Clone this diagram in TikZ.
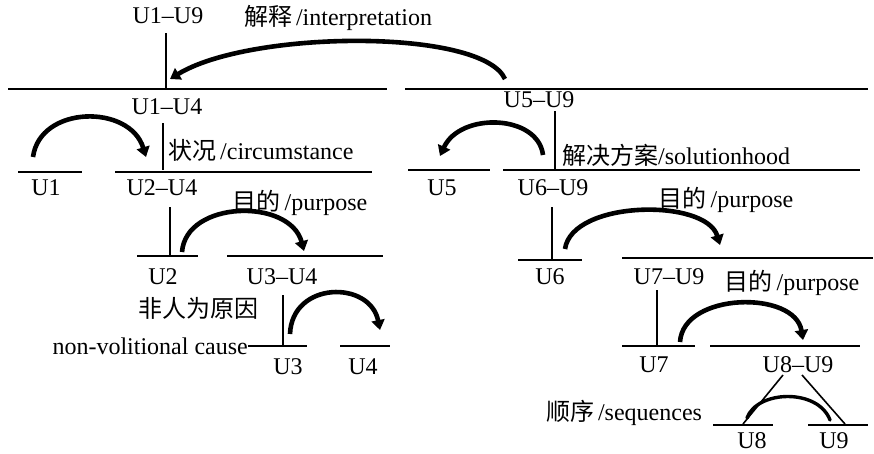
\documentclass[tikz,border=0pt]{standalone}
\usepackage{fontspec}
\setmainfont{Liberation Serif}
\newfontfamily\cjk{Noto Sans CJK SC}
\usetikzlibrary{arrows.meta}
\begin{document}
\begin{tikzpicture}[x=1pt,y=-1pt,
  seg/.style={line width=1.8pt},
  stem/.style={line width=1.6pt},
  lab/.style={inner sep=0pt,font=\fontsize{24}{28}\selectfont},
  rel/.style={line width=4.6pt,-{Triangle[length=10pt,width=13pt]}},
  seq/.style={line width=3.4pt,line cap=round}]
\useasboundingbox (0,0) rectangle (874,453);
% segments
\draw[seg] (8,89) coordinate (t1a) -- (387,89) coordinate (t1b);
\draw[seg] (405,89) coordinate (t2a) -- (868,89) coordinate (t2b);
\draw[seg] (18,172) coordinate (u1a) -- (82,172);
\draw[seg] (115,172) coordinate (u24a) -- (372,172);
\draw[seg] (408,170) -- (490,170);
\draw[seg] (503,170) -- (860,170);
\draw[seg] (137,256) -- (198,256);
\draw[seg] (227,256) -- (383,256);
\draw[seg] (248,346) coordinate (u3a) -- (307,346);
\draw[seg] (340,346) -- (390,346);
\draw[seg] (518,260) -- (582,260);
\draw[seg] (622,258) -- (873,258);
\draw[seg] (622,346) -- (695,346);
\draw[seg] (710,346) -- (860,346);
\draw[seg] (713,425) coordinate (u8a) -- (773,425);
\draw[seg] (808,425) -- (868,425) coordinate (u9b);
% stems
\draw[stem] (166,33) coordinate (s1) -- (166,89);
\draw[stem] (163,123) -- (163,170);
\draw[stem] (555,111) -- (555,170);
\draw[stem] (170,207) -- (170,256);
\draw[stem] (552,207) -- (552,260);
\draw[stem] (283,295) -- (283,346);
\draw[stem] (657,290) -- (657,346);
\coordinate (q1) at (783,375);
\coordinate (q2) at (802,375);
\draw[stem] (q1) -- (743,424);
\draw[stem] (q2) -- (845,424);
% labels
\node[lab] (l19) at (168,16) {U1--U9};
\node[lab] (linterp) at (338,18) {{\cjk 解释}\,/interpretation};
\node[lab] (l14) at (167,107) {U1--U4};
\node[lab,anchor=west] (lcirc) at (168,150) {{\cjk 状况}\,/circumstance};
\node[lab] (l1) at (46,188) {U1};
\node[lab] (l24) at (162,188) {U2--U4};
\node[lab] (l59) at (539,100) {U5--U9};
\node[lab,anchor=west] (lsol) at (562,155) {{\cjk 解决方案}/solutionhood};
\node[lab] (l5) at (442,188) {U5};
\node[lab] (l69) at (553,188) {U6--U9};
\node[lab] (lp1) at (300,203) {{\cjk 目的}\,/purpose};
\node[lab] (lp2) at (726,200) {{\cjk 目的}\,/purpose};
\node[lab] (l2) at (163,277) {U2};
\node[lab] (l34) at (282,277) {U3--U4};
\node[lab] (l6) at (550,277) {U6};
\node[lab] (l79) at (669,277) {U7--U9};
\node[lab] (lp3) at (792,283) {{\cjk 目的}\,/purpose};
\node[lab] (lnv) at (198,308) {\cjk 非人为原因};
\node[lab,anchor=east] (lnvc) at (u3a) {non-volitional cause};
\node[lab] (l3) at (288,367) {U3};
\node[lab] (l4) at (363,367) {U4};
\node[lab] (l7) at (654,365) {U7};
\node[lab] (l89) at (798,365) {U8--U9};
\node[lab] (lseq) at (624,413) {{\cjk 顺序}\,/sequences};
\node[lab] (l8) at (752,441) {U8};
\node[lab] (l9) at (834,441) {U9};
% relation arrows
\coordinate (a1s) at (505,79); \coordinate (a1e) at (170,79);
\draw[rel] (a1s) .. controls (482,28) and (250,30) .. (a1e);
\coordinate (a2s) at (33,157); \coordinate (a2e) at (146,157);
\draw[rel] (a2s) .. controls (40,105) and (130,104) .. (a2e);
\coordinate (a3s) at (543,155); \coordinate (a3e) at (440,156);
\draw[rel] (a3s) .. controls (538,114) and (460,112) .. (a3e);
\coordinate (a4s) at (182,252); \coordinate (a4e) at (304,251);
\draw[rel] (a4s) .. controls (186,200) and (290,198) .. (a4e);
\coordinate (a5s) at (565,249); \coordinate (a5e) at (720,245);
\draw[rel] (a5s) .. controls (572,200) and (706,198) .. (a5e);
\coordinate (a6s) at (290,334); \coordinate (a6e) at (380,330);
\draw[rel] (a6s) .. controls (292,281) and (370,280) .. (a6e);
\coordinate (a7s) at (680,342); \coordinate (a7e) at (803,340);
\draw[rel] (a7s) .. controls (683,292) and (795,290) .. (a7e);
\coordinate (a8s) at (747,418); \coordinate (a8e) at (830,420);
\draw[seq] (a8s) .. controls (757,390) and (818,388) .. (a8e);
\end{tikzpicture}
\end{document}
